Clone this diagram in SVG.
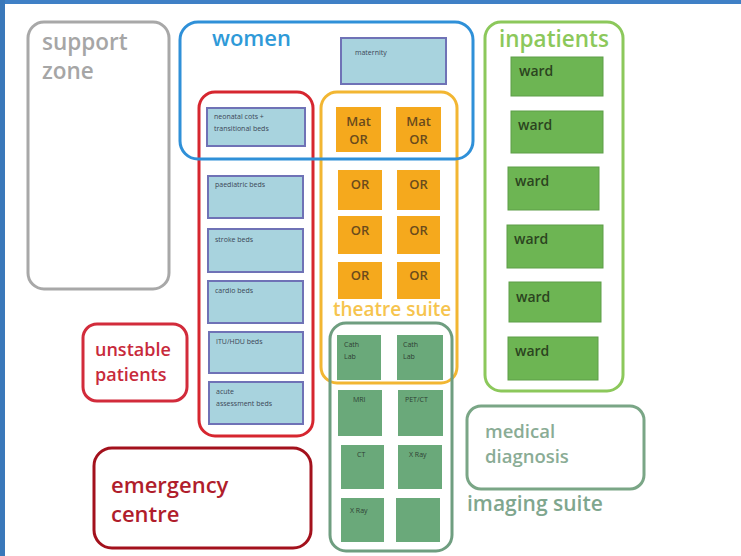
<svg xmlns="http://www.w3.org/2000/svg" width="741" height="556" viewBox="0 0 741 556">
  <style>
    .zone { fill: none; stroke-width: 3; }
    .lbl { font-family: "Open Sans", "Noto Sans", "DejaVu Sans", sans-serif; font-weight: 600; }
    .tiny { font-family: "Open Sans", "Noto Sans", sans-serif; font-size: 7px; fill: #3b4656; }
    .bed { fill: #a8d3de; stroke: #6f72b6; stroke-width: 2; }
    .or { fill: #f5a91d; }
    .ortxt { font-family: "Open Sans", "Noto Sans", sans-serif; font-weight: 600; font-size: 13px; fill: #6a4b1c; text-anchor: middle; }
    .img { fill: #6aa97a; }
    .imgtxt { font-family: "Open Sans", "Noto Sans", sans-serif; font-size: 7px; fill: #2e3e33; }
    .ward { fill: #6db553; stroke: #5e9e48; stroke-width: 1; }
    .wardtxt { font-family: "Open Sans", "Noto Sans", sans-serif; font-weight: 600; font-size: 14px; fill: #2b4420; }
  </style>

  <rect width="741" height="556" fill="#ffffff"/>
  <!-- frame edges -->
  <rect x="0" y="0" width="741" height="4" fill="#3f80c6"/>
  <rect x="0" y="0" width="5" height="556" fill="#3a78ba"/>

  <g id="support-zone">
    <rect class="zone" x="28" y="22" width="141" height="267" rx="16" stroke="#a8a8a8"/>
    <text class="lbl" x="42" y="50" font-size="22.5" fill="#a6a6a6">support</text>
    <text class="lbl" x="42" y="79" font-size="22.5" fill="#a6a6a6">zone</text>
  </g>

  <g id="inpatients">
    <rect class="zone" x="485" y="22" width="138" height="369" rx="16" stroke="#8cc85b"/>
    <text class="lbl" x="499" y="47" font-size="22.5" fill="#8cc85b">inpatients</text>
    <g id="ward-1"><rect class="ward" x="511" y="57" width="92" height="39"/><text class="wardtxt" x="519" y="76">ward</text></g>
    <g id="ward-2"><rect class="ward" x="511" y="111" width="92" height="42"/><text class="wardtxt" x="518" y="130">ward</text></g>
    <g id="ward-3"><rect class="ward" x="508" y="167" width="91" height="43"/><text class="wardtxt" x="515" y="186">ward</text></g>
    <g id="ward-4"><rect class="ward" x="507" y="225" width="96" height="43"/><text class="wardtxt" x="514" y="244">ward</text></g>
    <g id="ward-5"><rect class="ward" x="509" y="282" width="92" height="40"/><text class="wardtxt" x="516" y="302">ward</text></g>
    <g id="ward-6"><rect class="ward" x="508" y="337" width="90" height="43"/><text class="wardtxt" x="515" y="356">ward</text></g>
  </g>

  <g id="unstable-zone">
    <rect class="zone" x="199" y="92" width="114" height="344" rx="16" stroke="#d6262f"/>
  </g>

  <g id="theatre-suite">
    <rect class="zone" x="321" y="92" width="136" height="291" rx="16" stroke="#f2b632"/>
    <text class="lbl" x="333" y="316" font-size="19" fill="#f6c44e">theatre suite</text>
    <g id="mat-or-1"><rect class="or" x="336" y="107" width="45" height="45"/><text class="ortxt" x="358.5" y="126">Mat</text><text class="ortxt" x="358.5" y="144">OR</text></g>
    <g id="mat-or-2"><rect class="or" x="396" y="107" width="45" height="45"/><text class="ortxt" x="418.5" y="126">Mat</text><text class="ortxt" x="418.5" y="144">OR</text></g>
    <g id="or-1"><rect class="or" x="338" y="170" width="44" height="40"/><text class="ortxt" x="360" y="189">OR</text></g>
    <g id="or-2"><rect class="or" x="397" y="170" width="43" height="40"/><text class="ortxt" x="418.5" y="189">OR</text></g>
    <g id="or-3"><rect class="or" x="338" y="216" width="44" height="38"/><text class="ortxt" x="360" y="235">OR</text></g>
    <g id="or-4"><rect class="or" x="397" y="216" width="43" height="38"/><text class="ortxt" x="418.5" y="235">OR</text></g>
    <g id="or-5"><rect class="or" x="338" y="262" width="44" height="37"/><text class="ortxt" x="360" y="280">OR</text></g>
    <g id="or-6"><rect class="or" x="397" y="262" width="43" height="37"/><text class="ortxt" x="418.5" y="280">OR</text></g>
  </g>

  <g id="women">
    <rect class="zone" x="180" y="22" width="293" height="137" rx="18" stroke="#2f90d8"/>
    <text class="lbl" x="212" y="46" font-size="22" fill="#2f9ad8">women</text>
    <g id="maternity"><rect class="bed" x="341" y="38" width="105" height="46"/><text class="tiny" x="355" y="55">maternity</text></g>
    <g id="neonatal"><rect class="bed" x="207" y="108" width="98" height="38"/><text class="tiny" x="214" y="119">neonatal cots +</text><text class="tiny" x="214" y="131">transitional beds</text></g>
  </g>

  <g id="paediatric-beds"><rect class="bed" x="208" y="176" width="95" height="42"/><text class="tiny" x="215" y="187">paediatric beds</text></g>
  <g id="stroke-beds"><rect class="bed" x="208" y="229" width="95" height="43"/><text class="tiny" x="215" y="242">stroke beds</text></g>
  <g id="cardio-beds"><rect class="bed" x="208" y="281" width="95" height="42"/><text class="tiny" x="215" y="293">cardio beds</text></g>
  <g id="itu-hdu-beds"><rect class="bed" x="209" y="332" width="94" height="41"/><text class="tiny" x="216" y="344">ITU/HDU beds</text></g>
  <g id="acute-beds"><rect class="bed" x="209" y="382" width="94" height="42"/><text class="tiny" x="216" y="394">acute</text><text class="tiny" x="216" y="406">assessment beds</text></g>

  <g id="imaging-suite">
    <rect class="zone" x="330" y="323" width="122" height="228" rx="16" stroke="#6f9e80"/>
    <g id="cath-lab-1"><rect class="img" x="337" y="335" width="44" height="45"/><text class="imgtxt" x="344" y="347">Cath</text><text class="imgtxt" x="344" y="359">Lab</text></g>
    <g id="cath-lab-2"><rect class="img" x="397" y="335" width="46" height="45"/><text class="imgtxt" x="403" y="347">Cath</text><text class="imgtxt" x="403" y="359">Lab</text></g>
    <g id="mri"><rect class="img" x="338" y="390" width="44" height="46"/><text class="imgtxt" x="353" y="402">MRI</text></g>
    <g id="pet-ct"><rect class="img" x="398" y="390" width="45" height="46"/><text class="imgtxt" x="405" y="402">PET/CT</text></g>
    <g id="ct"><rect class="img" x="341" y="445" width="43" height="44"/><text class="imgtxt" x="357" y="457">CT</text></g>
    <g id="xray-1"><rect class="img" x="398" y="445" width="44" height="44"/><text class="imgtxt" x="409" y="457">X Ray</text></g>
    <g id="xray-2"><rect class="img" x="341" y="498" width="43" height="44"/><text class="imgtxt" x="350" y="513">X Ray</text></g>
    <g id="imaging-blank"><rect class="img" x="396" y="498" width="44" height="44"/></g>
  </g>

  <g id="medical-diagnosis">
    <rect class="zone" x="467" y="406" width="177" height="83" rx="14" stroke="#7aa686"/>
    <text class="lbl" x="485" y="438" font-size="18.5" font-weight="500" fill="#8aac95">medical</text>
    <text class="lbl" x="485" y="463" font-size="18.5" font-weight="500" fill="#8aac95">diagnosis</text>
    <text class="lbl" x="467" y="511" font-size="21" fill="#7fa68e">imaging suite</text>
  </g>

  <g id="unstable-patients">
    <rect class="zone" x="83" y="324" width="104" height="77" rx="14" stroke="#d22b3b"/>
    <text class="lbl" x="95" y="356" font-size="18" font-weight="700" fill="#c82a3b">unstable</text>
    <text class="lbl" x="95" y="381" font-size="18" font-weight="700" fill="#c82a3b">patients</text>
  </g>

  <g id="emergency-centre">
    <rect class="zone" x="94" y="448" width="217" height="100" rx="18" stroke="#a3111c" stroke-width="4"/>
    <text class="lbl" x="111" y="493" font-size="22" fill="#b01d2b">emergency</text>
    <text class="lbl" x="111" y="522" font-size="22" fill="#b01d2b">centre</text>
  </g>

  <g id="connectors"></g>
</svg>
